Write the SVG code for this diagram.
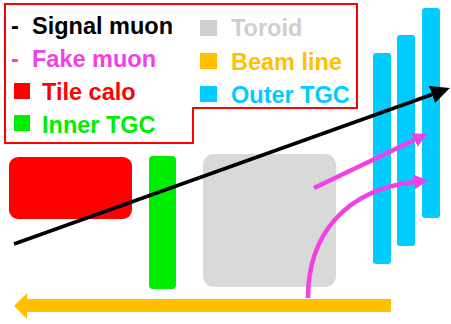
<svg xmlns="http://www.w3.org/2000/svg" width="451" height="324" viewBox="0 0 451 324">
<style>
  .lbl { font-family: "Liberation Sans", Arial, sans-serif; font-weight: bold; font-size: 23.5px; }
  .tgc { fill: #00CCFF; }
  .fake { fill: none; stroke: #F240E2; stroke-width: 4.5; }
</style>
<defs>
  <marker id="hBlack" markerUnits="userSpaceOnUse" viewBox="0 0 19 18" refX="0" refY="9" markerWidth="19" markerHeight="18" orient="auto">
    <path d="M0,0 L19,9 L0,18 Z" fill="#000"/>
  </marker>
  <marker id="hPink" markerUnits="userSpaceOnUse" viewBox="0 0 14 15" refX="0" refY="7.5" markerWidth="14" markerHeight="15" orient="auto">
    <path d="M0,0 L14,7.5 L0,15 Z" fill="#F240E2"/>
  </marker>
</defs>
<rect width="451" height="324" fill="#fff"/>

<g id="legend">
  <polygon points="5,4 357,4 357,108 193,108 193,143 5,143" fill="none" stroke="#FF0000" stroke-width="2"/>
  <text class="lbl" x="11" y="34" fill="#000">-</text>
  <text class="lbl" x="32" y="34" fill="#000">Signal muon</text>
  <text class="lbl" x="11" y="67" fill="#F240E2">-</text>
  <text class="lbl" x="32" y="67" fill="#F240E2">Fake muon</text>
  <rect x="14" y="83" width="16" height="16" fill="#FF0000"/>
  <text class="lbl" x="42" y="100" fill="#FF0000">Tile calo</text>
  <rect x="14" y="115" width="16" height="16" fill="#00EE00"/>
  <text class="lbl" x="42" y="133" fill="#00EE00">Inner TGC</text>
  <rect x="200" y="20" width="17" height="16" fill="#D0CECE"/>
  <text class="lbl" x="231" y="36" fill="#D0CECE">Toroid</text>
  <rect x="200" y="53" width="17" height="16" fill="#FFC000"/>
  <text class="lbl" x="231" y="70" fill="#FFC000">Beam line</text>
  <rect x="200" y="86" width="17" height="16" fill="#00CCFF"/>
  <text class="lbl" x="231" y="103" fill="#00CCFF">Outer TGC</text>
</g>

<g id="tile-calo">
  <rect x="9" y="157" width="123" height="62" rx="9" fill="#FF0000"/>
</g>
<g id="inner-tgc">
  <rect x="149" y="156" width="27" height="133" rx="4" fill="#00EE00"/>
</g>
<g id="toroid">
  <rect x="203" y="154" width="133" height="133" rx="11" fill="#D9D9D9"/>
</g>
<g id="outer-tgc">
  <rect class="tgc" x="373" y="53" width="18" height="211" rx="3"/>
  <rect class="tgc" x="397" y="35" width="18" height="211" rx="3"/>
  <rect class="tgc" x="422" y="8" width="18" height="210" rx="3"/>
</g>
<g id="beam-line">
  <path d="M391,299 L27,299 L27,293 L14,306 L27,319 L27,312 L391,312 Z" fill="#FFC000"/>
</g>

<g id="connectors">
  <line x1="14" y1="244" x2="432" y2="94.5" stroke="#000" stroke-width="3.5" marker-end="url(#hBlack)"/>
  <line class="fake" x1="314" y1="188" x2="414.4" y2="140" marker-end="url(#hPink)"/>
  <path class="fake" d="M308,298 C308,235 345,190 414,182" marker-end="url(#hPink)"/>
</g>
</svg>
